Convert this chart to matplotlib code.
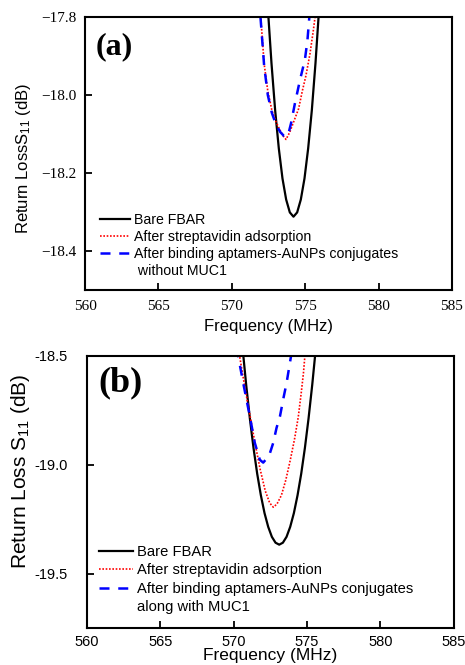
import matplotlib
matplotlib.use("Agg")
import matplotlib.pyplot as plt
from matplotlib.lines import Line2D

plt.rcParams['font.family'] = ['Liberation Sans', 'DejaVu Sans']
plt.rcParams['mathtext.fontset'] = 'custom'
plt.rcParams['mathtext.rm'] = 'Liberation Sans'
plt.rcParams['mathtext.it'] = 'Liberation Sans:italic'

# ---- panel (a): without MUC1 ----
a_bare_f = [572.2, 572.45, 572.7, 572.95, 573.2, 573.45, 573.7, 573.95, 574.2,
            574.45, 574.7, 574.95, 575.2, 575.45, 575.7, 575.95, 576.2]
a_bare_s = [-17.612, -17.776, -17.918, -18.039, -18.137, -18.214, -18.268, -18.301, -18.312,
            -18.301, -18.268, -18.214, -18.137, -18.039, -17.918, -17.776, -17.612]

a_strep_f = [571.85, 571.97, 572.2, 572.45, 572.72, 573.0, 573.25, 573.5, 573.69,
             573.95, 574.26, 574.55, 574.8, 575.05, 575.32, 575.55, 575.67, 575.8]
a_strep_s = [-17.74, -17.8, -17.92, -17.99, -18.038, -18.068, -18.088, -18.105, -18.114,
             -18.095, -18.064, -18.035, -17.99, -17.95, -17.895, -17.835, -17.8, -17.75]

a_apt_f = [571.85, 571.95, 572.2, 572.45, 572.72, 573.0, 573.3, 573.55, 573.72,
           573.85, 574.03, 574.3, 574.64, 574.98, 575.15, 575.28, 575.35]
a_apt_s = [-17.75, -17.8, -17.925, -18.0, -18.045, -18.075, -18.095, -18.105, -18.107,
           -18.1, -18.073, -18.021, -17.962, -17.909, -17.86, -17.8, -17.77]

# ---- panel (b): with MUC1 ----
b_bare_f = [570.35, 570.6, 570.85, 571.1, 571.35, 571.6, 571.85, 572.1, 572.35, 572.6, 572.85,
            573.1, 573.35, 573.6, 573.85, 574.1, 574.35, 574.6, 574.85, 575.1, 575.35, 575.6, 575.85]
b_bare_s = [-18.27, -18.461, -18.633, -18.787, -18.923, -19.041, -19.14, -19.222, -19.285, -19.331, -19.358,
            -19.367, -19.358, -19.331, -19.285, -19.222, -19.14, -19.041, -18.923, -18.787, -18.633, -18.461, -18.27]

b_strep_f = [570.3, 570.4, 570.75, 571.1, 571.45, 571.8, 572.15, 572.45, 572.7, 572.95,
             573.25, 573.55, 573.85, 574.15, 574.4, 574.6, 574.75, 574.85, 574.92]
b_strep_s = [-18.46, -18.5, -18.64, -18.77, -18.9, -19.02, -19.12, -19.175, -19.195, -19.18,
             -19.14, -19.07, -18.98, -18.88, -18.78, -18.67, -18.58, -18.5, -18.44]

b_apt_f = [570.25, 570.31, 570.65, 571.1, 571.44, 571.78, 572.01, 572.2, 572.47, 572.69,
           572.92, 573.15, 573.4, 573.6, 573.9, 573.95]
b_apt_s = [-18.46, -18.503, -18.625, -18.778, -18.9, -18.977, -18.99, -18.975, -18.946, -18.9,
           -18.83, -18.778, -18.69, -18.625, -18.503, -18.48]

labels = ['Bare FBAR', 'After streptavidin adsorption', 'After binding aptamers-AuNPs conjugates']
xticks = [560, 565, 570, 575, 580, 585]
a_yticks = [-17.8, -18.0, -18.2, -18.4]
a_ylabels = ['\u221217.8', '\u221218.0', '\u221218.2', '\u221218.4']
b_yticks = [-18.5, -19.0, -19.5]
b_ylabels = ['-18.5', '-19.0', '-19.5']

fig = plt.figure(figsize=(4.65, 6.65), dpi=100)
ax1 = fig.add_axes([0.183, 0.5639, 0.789, 0.4105])
ax2 = fig.add_axes([0.187, 0.0556, 0.789, 0.4091])

blue_dash = (0, (4, 3.5))
red_dot = (0, (1, 1))


def style(ax):
    for sp in ax.spines.values():
        sp.set_linewidth(1.5)
    ax.tick_params(direction='in', length=5, width=1.3, top=False, right=False)
    ax.set_xlim(560, 585)
    ax.set_xticks(xticks)


# panel (a)
ax1.plot(a_bare_f, a_bare_s, color='black', lw=1.6, label=labels[0])
ax1.plot(a_strep_f, a_strep_s, color='red', lw=1.2, ls=red_dot, label=labels[1])
ax1.plot(a_apt_f, a_apt_s, color='blue', lw=1.8, ls=blue_dash, label=labels[2])
style(ax1)
ax1.set_ylim(-18.5, -17.8)
ax1.set_yticks(a_yticks)
ax1.set_yticklabels(a_ylabels, family='Liberation Serif', fontsize=11)
ax1.set_xticklabels([str(t) for t in xticks], family='Liberation Serif', fontsize=11)
ax1.tick_params(axis='y', pad=6)
ax1.tick_params(axis='x', pad=7)
ax1.set_ylabel('Return LossS$_{11}$ (dB)', fontsize=12)
ax1.yaxis.set_label_coords(-0.142, 0.483)
ax1.set_xlabel('Frequency (MHz)', fontsize=12)
ax1.xaxis.set_label_coords(0.5, -0.106)
ax1.text(0.03, 0.946, '(a)', transform=ax1.transAxes, ha='left', va='top',
         family='Liberation Serif', fontweight='bold', fontsize=23)
h, l = ax1.get_legend_handles_labels()
h.append(Line2D([], [], color='none'))
l.append(' without MUC1')
ax1.legend(h, l, loc='lower left', bbox_to_anchor=(0.041, 0.044), frameon=False,
           fontsize=10.2, handlelength=2.1, handletextpad=0.28, labelspacing=0.22,
           borderaxespad=0, borderpad=0)

# panel (b)
ax2.plot(b_bare_f, b_bare_s, color='black', lw=1.6, label=labels[0])
ax2.plot(b_strep_f, b_strep_s, color='red', lw=1.2, ls=red_dot, label=labels[1])
ax2.plot(b_apt_f, b_apt_s, color='blue', lw=1.8, ls=blue_dash, label=labels[2])
style(ax2)
ax2.set_ylim(-19.75, -18.5)
ax2.set_yticks(b_yticks)
ax2.set_yticklabels(b_ylabels, fontsize=10.5)
ax2.set_xticklabels([str(t) for t in xticks], fontsize=10.5)
ax2.tick_params(axis='y', pad=14)
ax2.tick_params(axis='x', pad=5)
ax2.set_ylabel('Return Loss S$_{11}$ (dB)', fontsize=15)
ax2.yaxis.set_label_coords(-0.15, 0.577)
ax2.set_xlabel('Frequency (MHz)', fontsize=12.5)
ax2.xaxis.set_label_coords(0.5, -0.072)
ax2.text(0.03, 0.963, '(b)', transform=ax2.transAxes, ha='left', va='top',
         family='Liberation Serif', fontweight='bold', fontsize=26)
h, l = ax2.get_legend_handles_labels()
h.append(Line2D([], [], color='none'))
l.append('along with MUC1')
ax2.legend(h, l, loc='lower left', bbox_to_anchor=(0.033, 0.051), frameon=False,
           fontsize=10.6, handlelength=2.3, handletextpad=0.27, labelspacing=0.3,
           borderaxespad=0, borderpad=0)

fig.savefig('out.png', dpi=100)
